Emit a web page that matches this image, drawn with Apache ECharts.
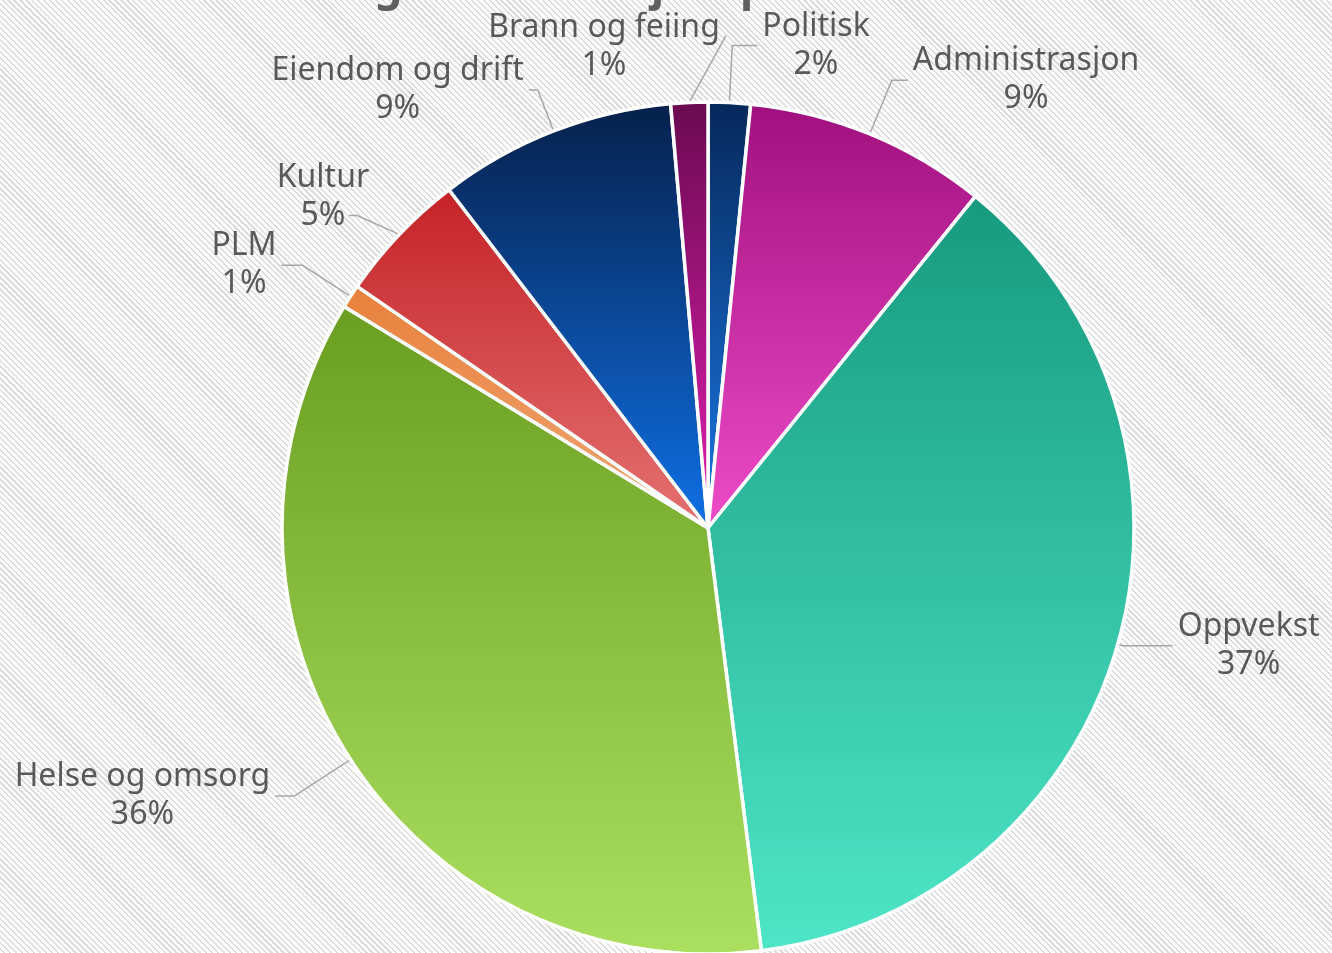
<!DOCTYPE html>
<html>
<head>
<meta charset="utf-8">
<script src="https://cdn.jsdelivr.net/npm/echarts@6/dist/echarts.min.js"></script>
<style>
  html, body { margin: 0; padding: 0; }
  #chart {
    width: 1332px;
    height: 953px;
    background: repeating-linear-gradient(45deg, #ffffff 0px, #ffffff 2.6px, #dcdcdc 2.6px, #dcdcdc 4.2px);
  }
</style>
</head>
<body>
<div id="chart"></div>
<script>
// budget share per sector, clockwise from 12 o'clock
const categories = ['Politisk', 'Administrasjon', 'Oppvekst', 'Helse og omsorg', 'PLM', 'Kultur', 'Eiendom og drift', 'Brann og feiing'];
const shares = [1.6, 9.2, 37.2, 35.7, 0.9, 5.0, 9.0, 1.4];
const topColors = ['#06285a', '#a0107e', '#179a7e', '#6a9e20', '#e8803a', '#c42226', '#06204a', '#6a0a50'];
const bottomColors = ['#1a7ae8', '#ee4cc8', '#4ee6c8', '#aadf60', '#f0a878', '#e47272', '#0f70e6', '#e020b0'];
// leader line lengths per slice (radial part, horizontal part)
const leaderLen = [57, 58, 5, 67, 57, 54, 44, 56];
const leaderLen2 = [25, 16, 50, 19, 21, 4, 9, 4];
// extra sideways nudge of a few labels, and where their leader line meets them
const labelNudge = [0, 0, 0, 0, 0, 18, 0, 42];
const attachAt = [0, 0, 0, 0, 0, 0.74, 0, 0.36];

const myChart = echarts.init(document.getElementById('chart'));

const labelFont = {
  color: '#595959',
  fontFamily: 'Noto Sans',
  fontSize: 32,
  lineHeight: 38,
  align: 'center'
};

const seriesData = categories.map((name, i) => ({
  name,
  value: shares[i],
  itemStyle: {
    color: {
      type: 'linear',
      x: 0, y: 0, x2: 0, y2: 1,
      colorStops: [
        { offset: 0, color: topColors[i] },
        { offset: 1, color: bottomColors[i] }
      ]
    }
  },
  labelLine: {
    length: leaderLen[i],
    length2: leaderLen2[i]
  }
}));

myChart.setOption({
  animation: false,
  title: {
    text: 'Fordeling av årsbudsjett på sektorer',
    left: 190,
    top: -40,
    textStyle: {
      color: '#5f5f5f',
      fontFamily: 'Noto Sans',
      fontWeight: 'bold',
      fontSize: 44
    }
  },
  series: [
    {
      type: 'pie',
      center: [708, 528],
      radius: 426,
      startAngle: 90,
      clockwise: true,
      percentPrecision: 0,
      avoidLabelOverlap: false,
      labelLayout: function (params) {
        const i = params.dataIndex;
        const nudge = labelNudge[i];
        if (!nudge || !params.labelLinePoints) {
          return { hideOverlap: false };
        }
        // left-side labels: end the leader just right of the moved text
        const r = params.labelRect;
        const start = params.labelLinePoints[0];
        const endX = r.x + r.width + nudge + (i === 5 ? -20 : 6);
        const endY = r.y + r.height * attachAt[i];
        const bendX = i === 5 ? endX + 8 : endX;
        return {
          dx: nudge,
          hideOverlap: false,
          labelLinePoints: [[start[0], start[1]], [bendX, endY], [endX, endY]]
        };
      },
      data: seriesData,
      itemStyle: {
        borderColor: '#ffffff',
        borderWidth: 3.5
      },
      label: {
        show: true,
        position: 'outside',
        formatter: '{n|{b}}\n{n|{d}%}',
        color: '#595959',
        fontFamily: 'Noto Sans',
        fontSize: 32,
        lineHeight: 38,
        rich: {
          n: labelFont
        }
      },
      labelLine: {
        show: true,
        lineStyle: {
          color: '#a6a6a6',
          width: 1.5
        }
      }
    }
  ]
});
</script>
</body>
</html>
